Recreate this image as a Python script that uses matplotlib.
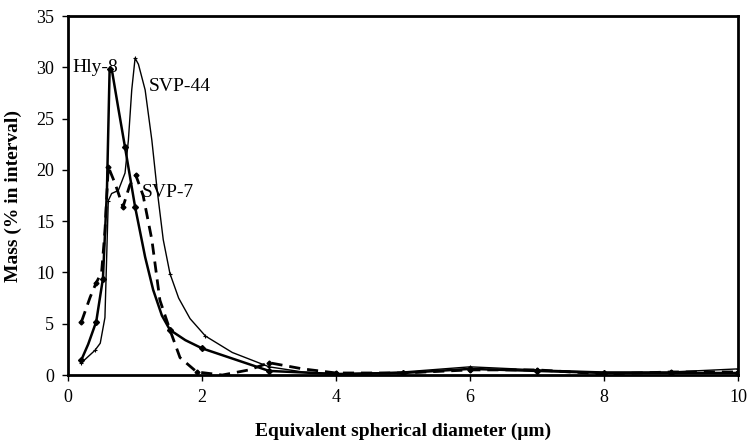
import matplotlib
matplotlib.use("Agg")
import matplotlib.pyplot as plt

plt.rcParams['font.family'] = ['Liberation Serif', 'DejaVu Serif']

# equivalent spherical diameter (um) vs mass (% in interval)
hly8_x = [0.2, 0.3, 0.42, 0.52, 0.58, 0.62, 0.66, 0.75, 0.85, 1.0, 1.15, 1.27,
          1.4, 1.52, 1.75, 2.0, 2.5, 3.0, 4.0, 5.0, 6.0, 7.0, 8.0, 9.0, 10.0]
hly8_y = [1.5, 3.0, 5.2, 9.4, 18.0, 29.8, 29.5, 26.0, 22.2, 16.4, 11.5, 8.3,
          5.8, 4.4, 3.4, 2.6, 1.5, 0.4, 0.1, 0.2, 0.6, 0.4, 0.2, 0.2, 0.2]
hly8_marks = [0, 2, 3, 5, 8, 9, 13, 15, 17, 18, 19, 20, 21, 22, 23, 24]

svp44_x = [0.2, 0.3, 0.4, 0.48, 0.55, 0.6, 0.65, 0.75, 0.85, 0.9, 0.95, 1.0,
           1.05, 1.15, 1.25, 1.33, 1.42, 1.52, 1.65, 1.82, 2.05, 2.45, 3.0,
           3.5, 4.0, 5.0, 6.0, 7.0, 8.0, 9.0, 10.0]
svp44_y = [1.2, 1.8, 2.4, 3.1, 5.6, 17.0, 17.7, 18.0, 19.7, 22.9, 27.8, 30.9,
           30.3, 27.8, 22.9, 18.0, 13.2, 9.9, 7.5, 5.5, 3.8, 2.2, 0.8,
           0.3, 0.1, 0.3, 0.8, 0.5, 0.3, 0.3, 0.6]
svp44_marks = [0, 2, 5, 11, 17, 20, 22, 24, 25, 26, 27, 28, 29, 30]

svp7_x = [0.2, 0.33, 0.42, 0.5, 0.55, 0.6, 0.7, 0.82, 0.92, 1.01, 1.12, 1.25,
          1.37, 1.52, 1.67, 1.92, 2.3, 2.7, 3.0, 3.5, 4.0, 5.0, 6.0, 7.0, 8.0,
          9.0, 10.0]
svp7_y = [5.2, 7.6, 9.0, 10.0, 14.0, 20.3, 18.7, 16.4, 18.5, 19.5, 17.5, 13.2,
          7.3, 4.4, 1.7, 0.3, 0.0, 0.5, 1.2, 0.6, 0.2, 0.2, 0.5, 0.5, 0.1,
          0.3, 0.3]
svp7_marks = [0, 2, 5, 7, 9, 13, 15, 18, 20, 21, 22, 23, 24, 25, 26]

fig = plt.figure(figsize=(7.48, 4.47), dpi=100)
ax = fig.add_axes([0.091, 0.161, 0.896, 0.803])

ax.plot(svp44_x, svp44_y, color='black', lw=1.0, marker='+', ms=3, mew=0.8,
        markevery=svp44_marks)
ax.plot(svp7_x, svp7_y, color='black', lw=2.0, ls=(0, (4, 2.5)), marker='D',
        ms=2.5, markevery=svp7_marks)
ax.plot(hly8_x, hly8_y, color='black', lw=1.8, marker='D', ms=3,
        markevery=hly8_marks)

ax.text(0.07, 30.0, 'Hly-8', fontsize=14, va='center', ha='left')
ax.text(1.21, 28.1, 'SVP-44', fontsize=14, va='center', ha='left')
ax.text(1.1, 17.8, 'SVP-7', fontsize=14, va='center', ha='left')

ax.set_xlim(0, 10)
ax.set_ylim(0, 35)
ax.set_xticks([0, 2, 4, 6, 8, 10])
ax.set_yticks(range(0, 36, 5))
ax.tick_params(direction='out', length=4, width=1, labelsize=13, pad=6)
for s in ax.spines.values():
    s.set_linewidth(2)

ax.set_xlabel('Equivalent spherical diameter (\u03bcm)', fontsize=14,
              fontweight='bold', labelpad=12)
ax.set_ylabel('Mass (% in interval)', fontsize=14, fontweight='bold',
              labelpad=10)

fig.savefig('out.png', dpi=100)
